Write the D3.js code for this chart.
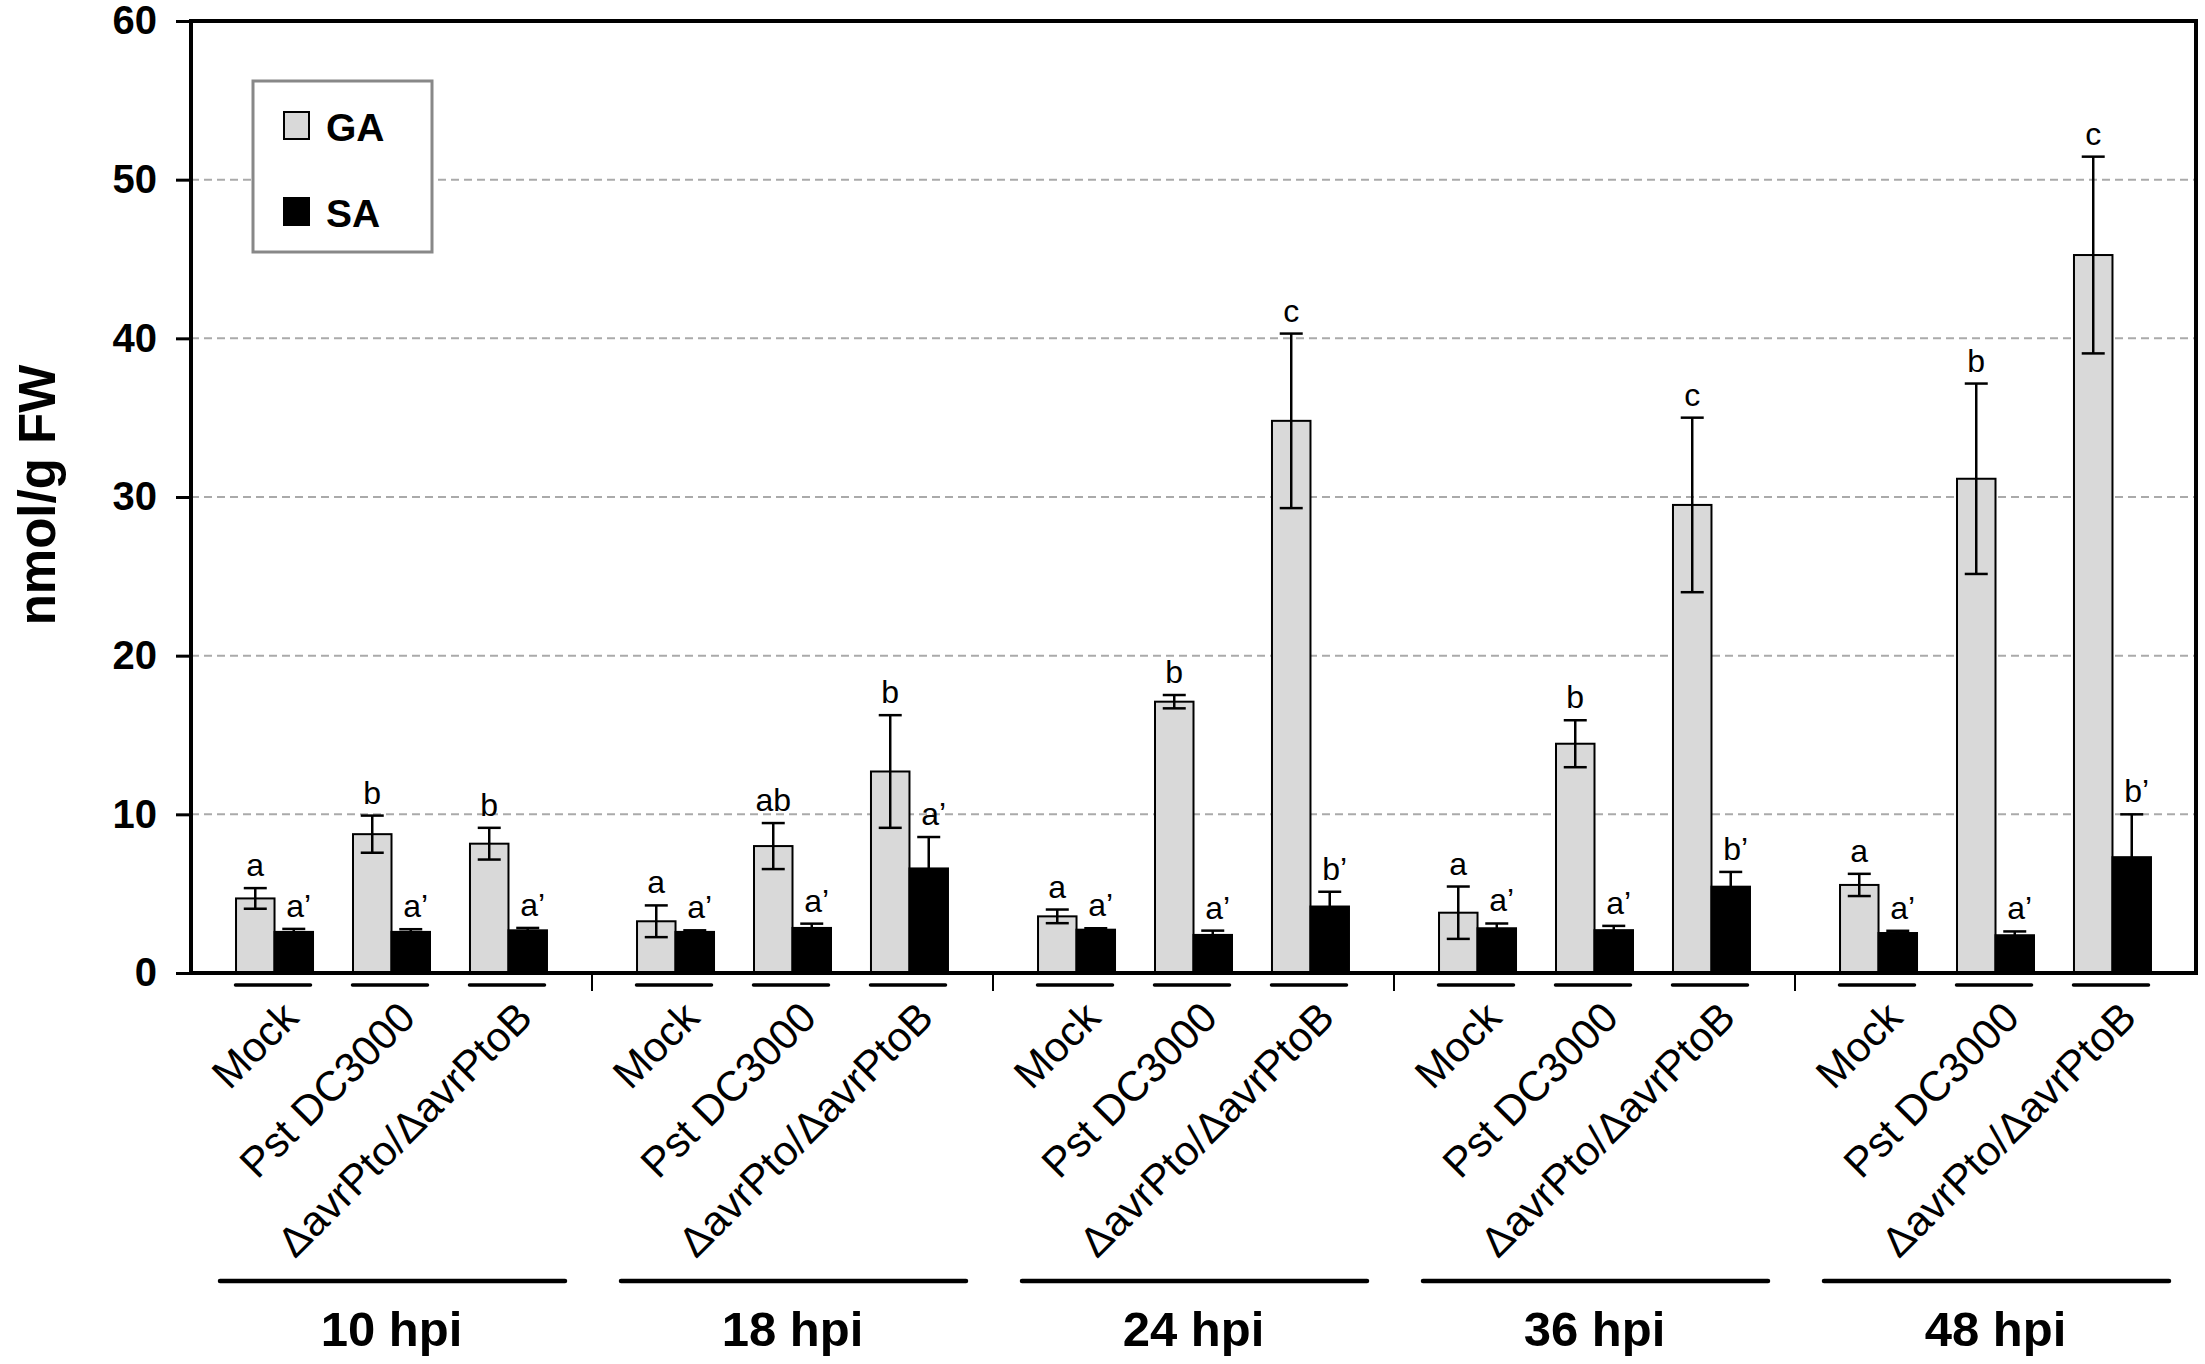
<!DOCTYPE html>
<html>
<head>
<meta charset="UTF-8"/>
<title>GA and SA levels</title>
<script src="https://d3js.org/d3.v7.min.js"></script>
<style>
  body { margin: 0; background: #fff; }
  text { font-family: "Liberation Sans", Arial, sans-serif; }
</style>
</head>
<body>
<div id="chart"></div>
<script>
// DATA
var groups = ["10 hpi", "18 hpi", "24 hpi", "36 hpi", "48 hpi"];
var treatments = ["Mock", "Pst DC3000", "\u0394avrPto/\u0394avrPtoB"];
var hormones = ["GA", "SA"];

// GA means / errors, one row per time point
var gaMean = [[4.7, 8.75, 8.15], [3.26, 8.0, 12.7], [3.57, 17.1, 34.8], [3.8, 14.45, 29.5], [5.55, 31.15, 45.25]];
var gaErr  = [[0.65, 1.17, 1.0], [1.0, 1.45, 3.55], [0.43, 0.42, 5.5], [1.65, 1.48, 5.5], [0.7, 6.0, 6.2]];
// SA means / errors
var saMean = [[2.59, 2.59, 2.69], [2.59, 2.84, 6.59], [2.73, 2.4, 4.19], [2.82, 2.7, 5.44], [2.52, 2.38, 7.3]];
var saErr  = [[0.19, 0.17, 0.15], [0.1, 0.27, 1.98], [0.09, 0.27, 0.93], [0.3, 0.27, 0.93], [0.14, 0.24, 2.7]];
// significance letters
var gaLetters = [["a", "b", "b"], ["a", "ab", "b"], ["a", "b", "c"], ["a", "b", "c"], ["a", "b", "c"]];
var saLetters = [["a\u2019", "a\u2019", "a\u2019"], ["a\u2019", "a\u2019", "a\u2019"], ["a\u2019", "a\u2019", "b\u2019"],
                 ["a\u2019", "a\u2019", "b\u2019"], ["a\u2019", "a\u2019", "b\u2019"]];
var yTicks = [0, 10, 20, 30, 40, 50, 60];

var W = 2205, H = 1364;
var pLeft = 191, pRight = 2196, pTop = 21, pBottom = 973;

var svg = d3.select("#chart").append("svg")
    .attr("width", W)
    .attr("height", H);

// scales
var y = d3.scaleLinear().domain([0, 60]).range([pBottom, pTop]);
var x0 = d3.scaleBand().domain(groups).range([pLeft, pRight]);
var x1 = d3.scalePoint().domain(treatments).range([0, x0.bandwidth()]).padding(0.714);
var x2 = d3.scaleBand().domain(hormones).range([-38.5, 38.5]);
var fill = d3.scaleOrdinal().domain(hormones).range(["#d9d9d9", "#000"]);

// flat table built from the arrays
var rows = [];
groups.forEach(function(g, gi) {
    treatments.forEach(function(t, ti) {
        rows.push({g: g, t: t, h: "GA", v: gaMean[gi][ti], e: gaErr[gi][ti], l: gaLetters[gi][ti]});
        rows.push({g: g, t: t, h: "SA", v: saMean[gi][ti], e: saErr[gi][ti], l: saLetters[gi][ti]});
    });
});
function cx(d) { return x0(d.g) + x1(d.t); }

// gridlines
svg.append("g").selectAll("line")
    .data(yTicks.filter(function(v) { return v > 0 && v < 60; }))
    .enter().append("line")
    .attr("x1", pLeft).attr("x2", pRight)
    .attr("y1", function(d) { return y(d); })
    .attr("y2", function(d) { return y(d); })
    .attr("stroke", "#aaa")
    .attr("stroke-width", 2)
    .attr("stroke-dasharray", "8,5");

// y axis
var yAxis = svg.append("g")
    .attr("transform", "translate(" + pLeft + ",0)")
    .call(d3.axisLeft(y).tickValues(yTicks).tickSize(15).tickPadding(19));
yAxis.select(".domain").remove();
yAxis.selectAll(".tick line").attr("stroke", "#000").attr("stroke-width", 3);
yAxis.selectAll(".tick text")
    .attr("fill", "#000")
    .style("font-family", "'Liberation Sans', Arial, sans-serif")
    .style("font-size", "40px")
    .style("font-weight", "bold");

// bars
svg.append("g").selectAll("rect")
    .data(rows)
    .enter().append("rect")
    .attr("x", function(d) { return cx(d) + x2(d.h); })
    .attr("y", function(d) { return y(d.v); })
    .attr("width", x2.bandwidth())
    .attr("height", function(d) { return y(0) - y(d.v); })
    .attr("fill", function(d) { return fill(d.h); })
    .attr("stroke", "#000")
    .attr("stroke-width", 2);

// error bars
var eb = svg.append("g").attr("stroke", "#000").attr("stroke-width", 2.5);
rows.forEach(function(d) {
    var mx = cx(d) + x2(d.h) + x2.bandwidth() / 2;
    eb.append("line").attr("x1", mx).attr("x2", mx)
        .attr("y1", y(d.v + d.e)).attr("y2", y(d.v - d.e));
    [d.v + d.e, d.v - d.e].forEach(function(v) {
        eb.append("line").attr("x1", mx - 11.5).attr("x2", mx + 11.5)
            .attr("y1", y(v)).attr("y2", y(v));
    });
});

// letters
svg.append("g").selectAll("text")
    .data(rows)
    .enter().append("text")
    .attr("x", function(d) { return cx(d) + x2(d.h) + x2.bandwidth() / 2 + (d.h == "SA" ? 5 : 0); })
    .attr("y", function(d) { return y(d.v + d.e) - 12; })
    .attr("text-anchor", "middle")
    .style("font-size", "32px")
    .text(function(d) { return d.l; });

// plot frame
svg.append("path")
    .attr("d", "M" + pLeft + "," + pBottom + "V" + pTop + "H" + pRight + "V" + pBottom + "Z")
    .attr("fill", "none")
    .attr("stroke", "#000")
    .attr("stroke-width", 4);

// group separators under the axis
svg.append("g").selectAll("line")
    .data(groups.slice(1))
    .enter().append("line")
    .attr("x1", function(d) { return x0(d); })
    .attr("x2", function(d) { return x0(d); })
    .attr("y1", pBottom).attr("y2", pBottom + 18)
    .attr("stroke", "#000").attr("stroke-width", 2);

// treatment underlines and labels
var cells = [];
groups.forEach(function(g) { treatments.forEach(function(t) { cells.push({g: g, t: t}); }); });
svg.append("g").selectAll("line")
    .data(cells)
    .enter().append("line")
    .attr("x1", function(d) { return cx(d) - 39; })
    .attr("x2", function(d) { return cx(d) + 36; })
    .attr("y1", 985).attr("y2", 985)
    .attr("stroke", "#000").attr("stroke-width", 3.5)
    .attr("stroke-linecap", "round");
svg.append("g").selectAll("text")
    .data(cells)
    .enter().append("text")
    .attr("transform", function(d) { return "translate(" + (cx(d) + 26) + ",1020) rotate(-45)"; })
    .attr("text-anchor", "end")
    .style("font-size", "42px")
    .text(function(d) { return d.t; });

// group lines and labels
svg.append("g").selectAll("line")
    .data(groups)
    .enter().append("line")
    .attr("x1", function(d) { return x0(d) + 29; })
    .attr("x2", function(d) { return x0(d) + x0.bandwidth() - 27; })
    .attr("y1", 1281).attr("y2", 1281)
    .attr("stroke", "#000").attr("stroke-width", 4.5)
    .attr("stroke-linecap", "round");
svg.append("g").selectAll("text")
    .data(groups)
    .enter().append("text")
    .attr("x", function(d) { return x0(d) + x0.bandwidth() / 2; })
    .attr("y", 1346)
    .attr("text-anchor", "middle")
    .style("font-size", "49px")
    .style("font-weight", "bold")
    .text(function(d) { return d; });

// y title
svg.append("text")
    .attr("transform", "translate(55,495) rotate(-90)")
    .attr("text-anchor", "middle")
    .style("font-size", "51px")
    .style("font-weight", "bold")
    .text("nmol/g FW");

// legend
var legend = svg.append("g");
legend.append("rect")
    .attr("x", 253).attr("y", 81).attr("width", 179).attr("height", 171)
    .attr("fill", "#fff").attr("stroke", "#888").attr("stroke-width", 3);
hormones.forEach(function(h, i) {
    legend.append("rect")
        .attr("x", 284).attr("y", 112 + i * 86).attr("width", 25).attr("height", 27)
        .attr("fill", fill(h)).attr("stroke", "#000").attr("stroke-width", 2);
    legend.append("text")
        .attr("x", 326).attr("y", 140.5 + i * 86)
        .style("font-size", "39px")
        .style("font-weight", "bold")
        .text(h);
});
</script>
</body>
</html>
